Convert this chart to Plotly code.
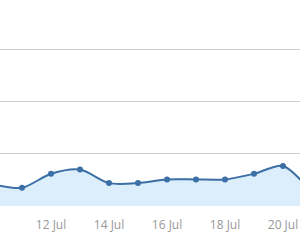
import plotly.graph_objects as go

dates = ["2014-07-10", "2014-07-11", "2014-07-12", "2014-07-13", "2014-07-14", "2014-07-15",
         "2014-07-16", "2014-07-17", "2014-07-18", "2014-07-19", "2014-07-20", "2014-07-21"]
values = [42, 35, 62, 70, 44, 44, 51, 51, 51, 62, 77, 25]

fig = go.Figure()
fig.add_trace(go.Scatter(
    x=dates, y=values, mode="lines+markers",
    line=dict(color="#3b6fa6", width=2, shape="spline", smoothing=0.8),
    marker=dict(color="#3b6fa6", size=6),
    fill="tozeroy", fillcolor="#dcedfb",
    hoverinfo="skip",
))
fig.update_layout(
    width=300, height=249,
    margin=dict(l=0, r=0, t=0, b=43),
    paper_bgcolor="white", plot_bgcolor="white",
    showlegend=False,
    xaxis=dict(
        range=["2014-07-10 05:47", "2014-07-20 14:04"],
        tick0="2014-07-10", dtick=2 * 86400000, tickformat="%d %b",
        showgrid=False, zeroline=False, showline=False,
        tickfont=dict(family="Open Sans", size=12, color="#999999"),
        ticklabelstandoff=10,
    ),
    yaxis=dict(
        range=[0, 396], dtick=100, showticklabels=False,
        showgrid=True, gridcolor="#cfcfcf", gridwidth=1, zeroline=False,
    ),
)
fig.write_html("out.html")
